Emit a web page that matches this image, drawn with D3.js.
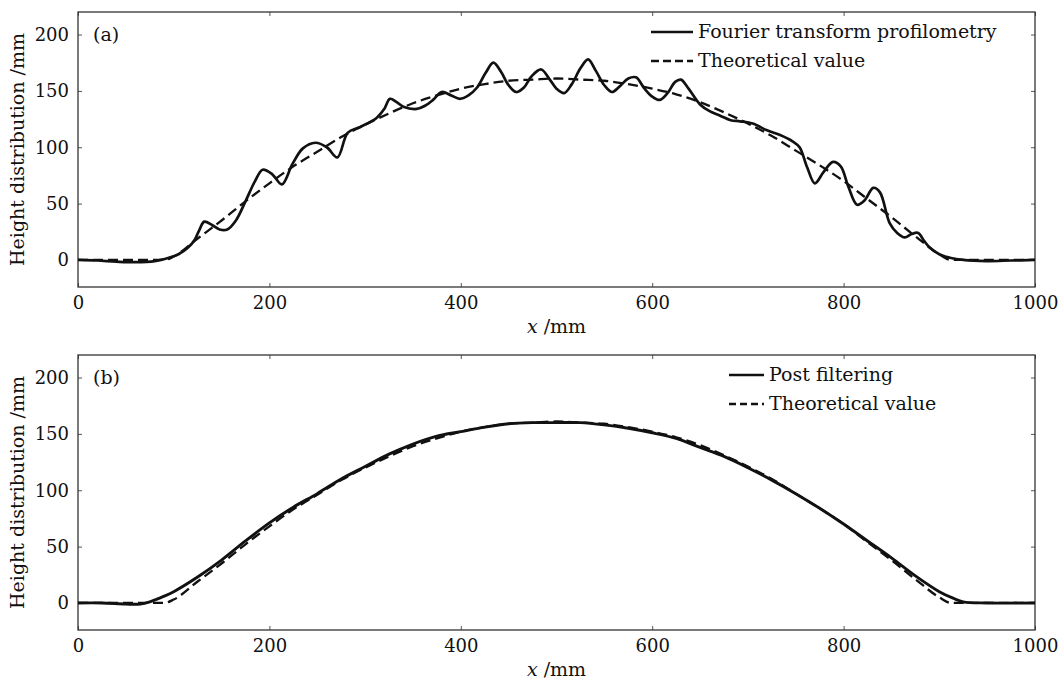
<!DOCTYPE html>
<html>
<head>
<meta charset="utf-8">
<script src="https://d3js.org/d3.v7.min.js"></script>
<style>
  body { margin: 0; background: #fff; }
  text { font-family: "DejaVu Serif", serif; fill: #111; }
</style>
</head>
<body>
<script>
// panel (a): Fourier transform profilometry
const ftpX = [0, 20, 40, 60, 80, 95, 105, 115, 122, 127, 132, 140, 148, 156, 165, 175, 185, 193, 203, 213,
  224, 235, 248, 260, 271, 282, 295, 312, 320, 326, 333, 340, 354, 363, 371, 380, 390, 399, 408, 417,
  426, 434, 442, 450, 458, 466, 474, 484, 493, 500, 508, 516, 525, 533, 541, 550, 558, 566, 575, 583,
  592, 600, 608, 616, 624, 630, 638, 650, 660, 671, 682, 692, 705, 720, 733, 747, 754, 762, 770, 779,
  789, 797, 805, 814, 822, 831, 838, 848, 856, 864, 871, 878, 884, 890, 900, 911, 925, 950, 975, 1000];
const ftpY = [0, -0.5, -1.5, -2, -1, 2, 5, 11, 18, 27, 34, 31, 27, 27, 35, 52, 70, 80, 76, 67,
  85, 99, 104, 100, 91, 113, 118, 126, 134, 143, 140, 136, 134, 137, 142, 149, 146, 143, 146, 153,
  166, 175, 167, 155, 149, 153, 163, 169, 160, 152, 148, 156, 170, 178, 168, 155, 149, 154, 161, 162,
  152, 145, 142, 148, 158, 160, 152, 138, 132, 128, 124, 123, 121, 115, 111, 105, 100, 82, 68, 78,
  87, 83, 65, 49, 53, 64, 60, 33, 24, 20, 23, 24, 17, 11, 5, 2, 0, -1, -0.5, 0];

// theoretical profile (both panels)
const theoX = [0, 50, 90, 100, 125, 150, 175, 200, 225, 250, 275, 300, 325, 350, 375, 400, 425, 450, 475, 500,
  525, 550, 575, 600, 625, 650, 675, 700, 725, 750, 775, 800, 825, 850, 875, 900, 912, 950, 1000];
const theoY = [0, 0, 0, 3, 19, 35, 52, 68, 83, 96, 109, 120, 130, 139, 146, 152, 156, 159, 160, 161,
  160, 159, 156, 152, 147, 140, 131, 121, 110, 97, 84, 70, 54, 38, 21, 5, 0, 0, 0];

// panel (b): post filtering
const filtX = [0, 25, 50, 65, 75, 90, 100, 125, 150, 175, 200, 225, 250, 275, 300, 325, 350, 375, 400, 425,
  450, 475, 500, 525, 550, 575, 600, 625, 650, 675, 700, 725, 750, 775, 800, 825, 850, 875, 900, 915,
  925, 950, 1000];
const filtY = [0, 0, -1, -1, 1, 6, 10, 23, 38, 55, 71, 85, 97, 110, 121, 132, 141, 148, 152, 156,
  159, 160, 160, 160, 158, 155, 151, 146, 138, 130, 120, 109, 97, 84, 70, 55, 40, 24, 10, 4,
  1, 0, 0];

const xTicks = [0, 200, 400, 600, 800, 1000];
const yTicks = [0, 50, 100, 150, 200];

const width = 1060, height = 682;
const left = 78, plotW = 957, plotH = 275;

const svg = d3.select("body").append("svg")
  .attr("width", width)
  .attr("height", height);

const x = d3.scaleLinear().domain([0, 1000]).range([left, left + plotW]);

function panel(top, tag, series, legend) {
  const y = d3.scaleLinear().domain([-24, 220]).range([top + plotH, top]);
  const g = svg.append("g");

  // ticks on all four sides, pointing inward
  g.append("g").attr("transform", `translate(0,${top + plotH})`)
    .call(d3.axisBottom(x).tickValues(xTicks).tickSize(-4).tickPadding(9).tickFormat(d3.format("d")))
    .call(a => a.select(".domain").remove());
  g.append("g").attr("transform", `translate(0,${top})`)
    .call(d3.axisTop(x).tickValues(xTicks).tickSize(-4).tickFormat(""))
    .call(a => a.select(".domain").remove());
  g.append("g").attr("transform", `translate(${left},0)`)
    .call(d3.axisLeft(y).tickValues(yTicks).tickSize(-4).tickPadding(9))
    .call(a => a.select(".domain").remove());
  g.append("g").attr("transform", `translate(${left + plotW},0)`)
    .call(d3.axisRight(y).tickValues(yTicks).tickSize(-4).tickFormat(""))
    .call(a => a.select(".domain").remove());
  g.selectAll(".tick line").attr("stroke", "#555");
  g.selectAll(".tick text").attr("font-size", "18px").attr("font-family", "DejaVu Serif").attr("fill", "#111");

  g.append("rect")
    .attr("x", left).attr("y", top)
    .attr("width", plotW).attr("height", plotH)
    .attr("fill", "none").attr("stroke", "#333").attr("stroke-width", 1.3);

  series.forEach(s => {
    const line = d3.line()
      .x((d, i) => x(s.xs[i]))
      .y(d => y(d))
      .curve(s.curve);
    g.append("path")
      .attr("d", line(s.ys))
      .attr("fill", "none")
      .attr("stroke", "#111")
      .attr("stroke-width", s.w)
      .attr("stroke-dasharray", s.dash || null)
      .attr("stroke-linejoin", "round");
  });

  g.append("text").attr("x", 93).attr("y", top + 29)
    .attr("font-size", "19px").text(tag);

  legend.items.forEach((it, i) => {
    const ly = top + 20 + i * 29;
    g.append("line")
      .attr("x1", legend.x).attr("x2", legend.x + legend.len)
      .attr("y1", ly).attr("y2", ly)
      .attr("stroke", "#111").attr("stroke-width", it.w)
      .attr("stroke-dasharray", it.dash || null);
    g.append("text").attr("x", legend.x + legend.len + 5).attr("y", ly + 6)
      .attr("font-size", "19px").text(it.label);
  });

  g.append("text")
    .attr("transform", `translate(24,${top + plotH / 2}) rotate(-90)`)
    .attr("text-anchor", "middle")
    .attr("font-size", "19px")
    .text("Height distribution /mm");

  const xl = g.append("text")
    .attr("x", left + plotW / 2).attr("y", top + plotH + 46)
    .attr("text-anchor", "middle")
    .attr("font-size", "19px");
  xl.append("tspan").attr("font-style", "italic").text("x");
  xl.append("tspan").text(" /mm");
}

panel(12, "(a)",
  [
    { xs: theoX, ys: theoY, w: 2.3, dash: "10,5", curve: d3.curveMonotoneX },
    { xs: ftpX, ys: ftpY, w: 2.7, curve: d3.curveCatmullRom }
  ],
  { x: 651, len: 42, items: [
    { label: "Fourier transform profilometry", w: 2.6 },
    { label: "Theoretical value", w: 2.3, dash: "8,4" }
  ] });

panel(355, "(b)",
  [
    { xs: theoX, ys: theoY, w: 2.3, dash: "10,5", curve: d3.curveMonotoneX },
    { xs: filtX, ys: filtY, w: 2.9, curve: d3.curveCatmullRom }
  ],
  { x: 729, len: 35, items: [
    { label: "Post filtering", w: 2.6 },
    { label: "Theoretical value", w: 2.3, dash: "7,4" }
  ] });
</script>
</body>
</html>
